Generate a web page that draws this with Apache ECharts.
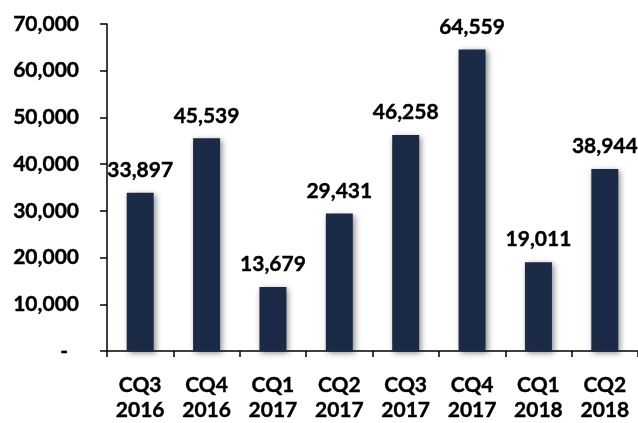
<!DOCTYPE html>
<html>
<head>
<meta charset="utf-8">
<script src="https://cdn.jsdelivr.net/npm/echarts@6/dist/echarts.min.js"></script>
<style>
  html, body { margin: 0; padding: 0; background: #fff; }
  #chart { width: 638px; height: 423px; }
</style>
</head>
<body>
<div id="chart"></div>
<script>
// Quarterly totals, calendar quarters CQ3 2016 to CQ2 2018
const quarters = ['CQ3\n2016', 'CQ4\n2016', 'CQ1\n2017', 'CQ2\n2017', 'CQ3\n2017', 'CQ4\n2017', 'CQ1\n2018', 'CQ2\n2018'];
const totals = [33897, 45539, 13679, 29431, 46258, 64559, 19011, 38944];
const yTicks = { min: 0, max: 70000, step: 10000 };

const FONT = 'Lato';
const fmt = v => v.toLocaleString('en-US');
// shared heavy text style
const txt = {
  color: '#000',
  fontFamily: FONT,
  fontWeight: 'bold',
  fontSize: 21,
  textBorderColor: '#000',
  textBorderWidth: 0.4
};

const chart = echarts.init(document.getElementById('chart'));
chart.setOption({
  animation: false,
  grid: { left: 107, top: 24, width: 533, height: 330, containLabel: false },
  xAxis: {
    type: 'category',
    data: quarters,
    axisLine: { lineStyle: { color: '#000', width: 1.5 } },
    axisTick: { show: true, length: 6, lineStyle: { color: '#000', width: 1.5 } },
    axisLabel: Object.assign({ margin: 22, lineHeight: 25 }, txt)
  },
  yAxis: {
    type: 'value',
    min: yTicks.min,
    max: yTicks.max,
    interval: yTicks.step,
    splitLine: { show: false },
    axisLine: { show: true, lineStyle: { color: '#000', width: 1.5 } },
    axisTick: { show: true, length: 7, lineStyle: { color: '#000', width: 1.5 } },
    axisLabel: Object.assign({
      margin: 28,
      formatter: v => v === 0 ? '{z|-}' : fmt(v),
      rich: {
        z: Object.assign({ padding: [0, 11, 0, 0] }, txt)
      }
    }, txt)
  },
  series: [{
    type: 'bar',
    data: totals,
    barWidth: 27,
    itemStyle: {
      color: '#1b2a47',
      shadowColor: 'rgba(0,0,0,0.45)',
      shadowBlur: 6,
      shadowOffsetX: 2,
      shadowOffsetY: 2
    },
    label: Object.assign({
      show: true,
      position: 'top',
      distance: 12,
      formatter: p => fmt(p.value)
    }, txt)
  }]
});
</script>
</body>
</html>
